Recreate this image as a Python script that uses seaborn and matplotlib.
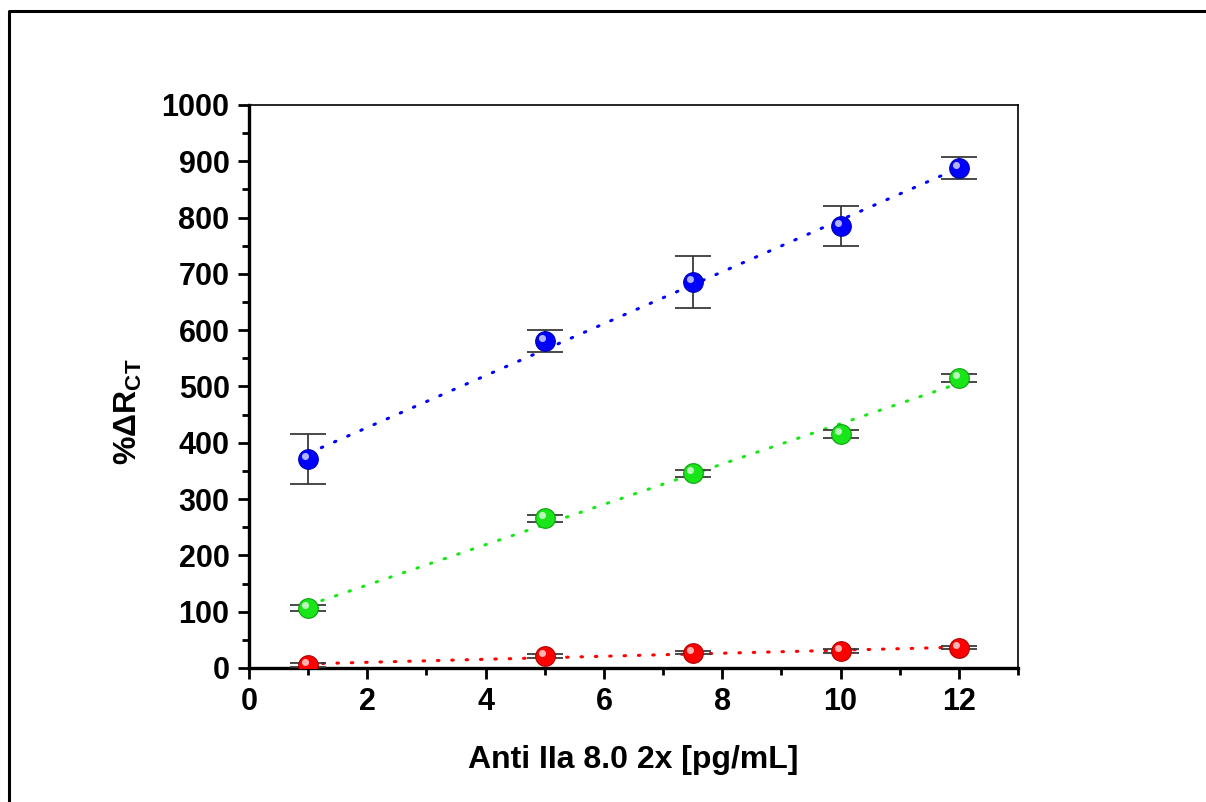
import numpy as np
import pandas as pd
import matplotlib
matplotlib.use("Agg")
import matplotlib.pyplot as plt
import matplotlib.transforms as mtransforms
from matplotlib.lines import Line2D
from matplotlib.ticker import MultipleLocator
import seaborn as sns

# Concentrations of Anti IIa 8.0 2x (pg/mL)
conc = [1, 5, 7.5, 10, 12]

# %ΔR_CT response for the three series, with standard deviations
blue_mean = [371, 581, 686, 785, 888]
blue_sd = [44, 20, 46, 35, 20]
green_mean = [107, 266, 346, 416, 515]
green_sd = [5, 6, 6, 7, 7]
red_mean = [5, 21, 27, 30, 36]
red_sd = [3, 3, 3, 3, 3]

series = [
    ("blue", blue_mean, blue_sd, "#0000ff", "#0000b0"),
    ("green", green_mean, green_sd, "#19e619", "#0fa00f"),
    ("red", red_mean, red_sd, "#ff0000", "#b00000"),
]

sns.set_style("ticks")
plt.rcParams["font.family"] = ["Liberation Sans", "DejaVu Sans"]
plt.rcParams["font.weight"] = "bold"
plt.rcParams["text.color"] = "black"
plt.rcParams["axes.labelcolor"] = "black"
plt.rcParams["xtick.color"] = "black"
plt.rcParams["ytick.color"] = "black"
plt.rcParams["axes.edgecolor"] = "black"
plt.rcParams["mathtext.fontset"] = "custom"
plt.rcParams["mathtext.rm"] = "Liberation Sans:bold"
plt.rcParams["mathtext.bf"] = "Liberation Sans:bold"
plt.rcParams["mathtext.it"] = "Liberation Sans:bold"

fig = plt.figure(figsize=(12.06, 8.02), dpi=100)
ax = fig.add_axes([0.2065, 0.1671, 0.8441 - 0.2065, 0.8691 - 0.1671])

hl_offset = mtransforms.ScaledTranslation(-3 / 100, 3 / 100, fig.dpi_scale_trans)

for name, mean, sd, color, edge in series:
    df = pd.DataFrame({"conc": conc, "resp": mean})
    # linear fit
    sns.regplot(data=df, x="conc", y="resp", ax=ax, scatter=False, ci=None,
                color=color,
                line_kws=dict(lw=2.2, dashes=(0.5, 4.2), dash_capstyle="round", zorder=2))
    ax.errorbar(conc, mean, yerr=sd, fmt="none", ecolor="#3a3a3a",
                elinewidth=1.3, capsize=13, capthick=1.3, zorder=3)
    sns.scatterplot(data=df, x="conc", y="resp", ax=ax, color=color, s=200,
                    edgecolor=edge, linewidth=0.8, zorder=4, legend=False)
    # glossy highlight on each sphere
    ax.scatter(conc, mean, s=26, color="white", alpha=0.7, linewidths=0,
               zorder=5, transform=ax.transData + hl_offset)

ax.set_xlim(0, 13)
ax.set_ylim(0, 1000)
ax.xaxis.set_major_locator(MultipleLocator(2))
ax.xaxis.set_minor_locator(MultipleLocator(1))
ax.yaxis.set_major_locator(MultipleLocator(100))
ax.yaxis.set_minor_locator(MultipleLocator(50))

ax.tick_params(which="major", direction="out", length=8, width=2, labelsize=22,
               top=False, right=False, pad=6, colors="black")
ax.tick_params(which="minor", direction="out", length=5, width=2,
               top=False, right=False, colors="black")
for lab in ax.get_xticklabels() + ax.get_yticklabels():
    lab.set_fontweight("bold")

for side in ["left", "bottom"]:
    ax.spines[side].set_linewidth(2.4)
for side in ["top", "right"]:
    ax.spines[side].set_linewidth(1.2)
    ax.spines[side].set_visible(True)

ax.set_xlabel("Anti IIa 8.0 2x [pg/mL]", fontsize=23, fontweight="bold", labelpad=20)
ax.set_ylabel(r"%ΔR$_{\mathbf{CT}}$", fontsize=23, fontweight="bold")
ax.yaxis.set_label_coords(-0.137, 0.455)

# outer frame along the top and left edges
fig.add_artist(Line2D([0.008, 1.0], [1 - 11 / 802, 1 - 11 / 802], color="black",
                      lw=2.2, transform=fig.transFigure))
fig.add_artist(Line2D([9 / 1206, 9 / 1206], [0.0, 1 - 11 / 802], color="black",
                      lw=2.2, transform=fig.transFigure))

fig.savefig("out.png", dpi=100, facecolor="white")
